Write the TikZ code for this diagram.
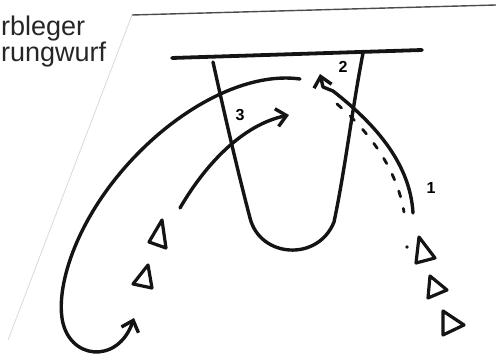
\documentclass[tikz,border=0pt]{standalone}
\usepackage{fontspec}
\setmainfont{Liberation Sans}
\usetikzlibrary{arrows.meta}
\begin{document}
\begin{tikzpicture}[
x=1pt, y=-1pt,
pen/.style={line width=3.4pt, line cap=round, line join=round, color=black!92},
arrow/.style={pen, -{Straight Barb[length=10pt,width=18pt,line width=3.4pt]}},
dashline/.style={pen, line width=2.8pt, dash pattern=on 6pt off 12pt},
player/.style={pen, line width=3.2pt},
edge/.style={line width=1.4pt, color=black!70},
faint/.style={line width=0.8pt, color=black!15},
title/.style={anchor=base west, inner sep=0pt, font=\fontsize{27}{29}\selectfont, text=black!85},
hand/.style={inner sep=0pt, font=\fontsize{16}{16}\selectfont\bfseries}
]
\useasboundingbox (0,0) rectangle (496,363);
\node[title] (title1) at (1,36) {rbleger};
\node[title] (title2) at (1,62) {rungwurf};
\coordinate (corner) at (132,15);
\coordinate (topend) at (496,5);
\coordinate (leftend) at (8,340);
\draw[edge] (corner) -- (topend);
\draw[faint] (corner) -- (leftend);
\coordinate (base1) at (172,58);
\coordinate (base2) at (422,50);
\draw[pen, line width=3.8pt] (base1) -- (base2);
\coordinate (laneL) at (213,62);
\coordinate (laneR) at (363,53);
\draw[pen] (laneL) .. controls (228,130) and (240,180) .. (250,218)
  .. controls (260,258) and (318,262) .. (334,222)
  .. controls (345,170) and (352,110) .. (laneR);
\coordinate (s3) at (180,208);
\coordinate (e3) at (289,115);
\draw[arrow] (s3) .. controls (205,165) and (242,125) .. (e3);
\coordinate (sBig) at (300,79);
\coordinate (eBig) at (134,318);
\draw[arrow] (sBig) .. controls (235,70) and (150,125) .. (100,200)
  .. controls (70,245) and (58,290) .. (62,318)
  .. controls (68,360) and (118,365) .. (eBig);
\coordinate (s2) at (413,213);
\coordinate (e2) at (320,74);
\draw[arrow] (s2) .. controls (410,160) and (370,120) .. (333,91)
  -- (323,87) -- (e2);
\coordinate (d1) at (337,104);
\coordinate (d2) at (404,212);
\draw[dashline] (d1) .. controls (365,128) and (396,165) .. (d2);
\node[hand] (lab1) at (431,188) {1};
\node[hand] (lab2) at (343,67) {2};
\node[hand] (lab3) at (240,115) {3};
\draw[player] (162,220) -- (166,248) -- (149,242) -- cycle;
\draw[player] (148,265) -- (152,288) -- (133,284) -- cycle;
\draw[player] (419,237) -- (416,263) -- (435,258) -- cycle;
\draw[player] (430,276) -- (428,298) -- (447,290) -- cycle;
\draw[player] (443,311) -- (443,335) -- (464,325) -- cycle;
\fill[black!90] (407,247) circle (1.8);
\end{tikzpicture}
\end{document}
